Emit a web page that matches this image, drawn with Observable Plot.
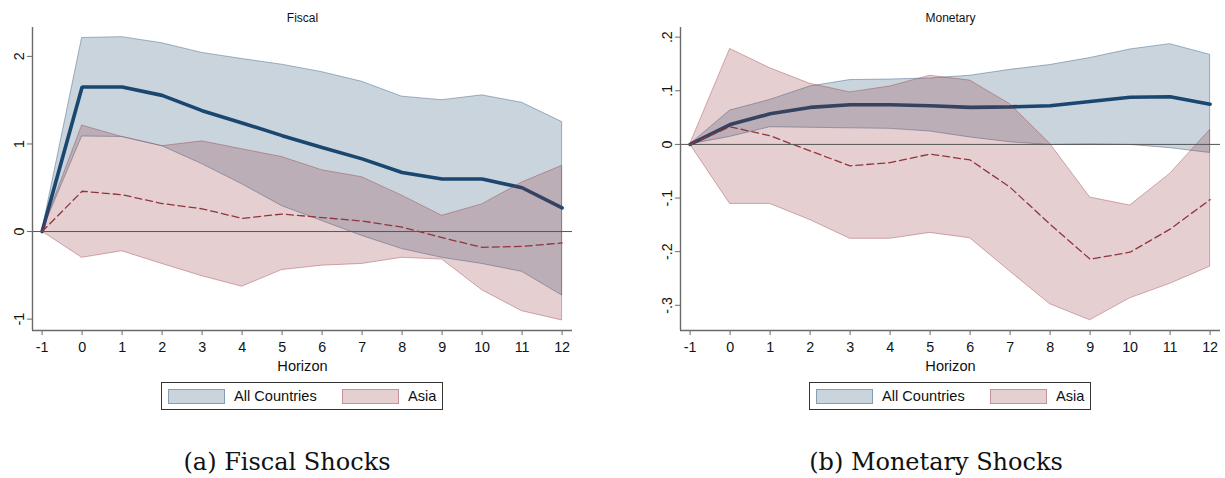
<!DOCTYPE html>
<html>
<head>
<meta charset="utf-8">
<script src="https://cdn.jsdelivr.net/npm/d3@7"></script>
<script src="https://cdn.jsdelivr.net/npm/@observablehq/plot@0.6"></script>
<style>
  html, body { margin: 0; padding: 0; background: #fff; }
  #root { position: relative; width: 1225px; height: 478px; font-family: "Liberation Sans", Arial, sans-serif; }
  .panel { position: absolute; top: 0; }
  .legend { position: absolute; top: 382px; width: 282px; height: 28px; box-sizing: border-box; border: 1px solid #333; background: #fff; }
  .sw { position: absolute; top: 6px; height: 15px; box-sizing: border-box; }
  .lt { position: absolute; top: 0; line-height: 26px; font-size: 14.6px; color: #111; white-space: nowrap; }
  .cap { position: absolute; top: 447px; width: 400px; text-align: center; font-family: "DejaVu Serif", serif; font-size: 24px; line-height: 30px; color: #111; white-space: nowrap; }
</style>
</head>
<body>
<div id="root"></div>
<script>
// ---------- data ----------
const horizon = [-1, 0, 1, 2, 3, 4, 5, 6, 7, 8, 9, 10, 11, 12];
const xTicks = [-1, 0, 1, 2, 3, 4, 5, 6, 7, 8, 9, 10, 11, 12];
const xTickLabels = ["-1", "0", "1", "2", "3", "4", "5", "6", "7", "8", "9", "10", "11", "12"];

// Fiscal shocks
const fiscalAllMean = [0, 1.65, 1.65, 1.555, 1.38, 1.24, 1.095, 0.96, 0.83, 0.675, 0.60, 0.60, 0.50, 0.27];
const fiscalAllHi   = [0, 2.21, 2.22, 2.15, 2.04, 1.97, 1.905, 1.82, 1.71, 1.54, 1.50, 1.555, 1.47, 1.25];
const fiscalAllLo   = [0, 1.085, 1.08, 0.975, 0.77, 0.54, 0.29, 0.12, -0.05, -0.20, -0.30, -0.37, -0.46, -0.73];
const fiscalAsiaMean = [0, 0.46, 0.42, 0.32, 0.26, 0.15, 0.20, 0.16, 0.12, 0.05, -0.07, -0.18, -0.17, -0.13];
const fiscalAsiaHi   = [0, 1.21, 1.08, 0.975, 1.03, 0.94, 0.85, 0.70, 0.62, 0.41, 0.18, 0.31, 0.56, 0.75];
const fiscalAsiaLo   = [0, -0.30, -0.225, -0.37, -0.51, -0.63, -0.44, -0.39, -0.37, -0.30, -0.32, -0.67, -0.91, -1.015];
const fiscalYTicks = [-1, 0, 1, 2];
const fiscalYTickLabels = ["-1", "0", "1", "2"];

// Monetary shocks
const monAllMean = [0, 0.037, 0.057, 0.069, 0.074, 0.074, 0.072, 0.069, 0.070, 0.072, 0.080, 0.088, 0.089, 0.075];
const monAllHi   = [0, 0.063, 0.083, 0.108, 0.120, 0.121, 0.123, 0.128, 0.139, 0.148, 0.161, 0.177, 0.187, 0.167];
const monAllLo   = [0, 0.014, 0.032, 0.031, 0.030, 0.029, 0.024, 0.013, 0.004, -0.001, 0.000, -0.001, -0.007, -0.016];
const monAsiaMean = [0, 0.033, 0.016, -0.012, -0.040, -0.034, -0.018, -0.029, -0.080, -0.149, -0.214, -0.201, -0.158, -0.103];
const monAsiaHi   = [0, 0.178, 0.142, 0.113, 0.097, 0.108, 0.128, 0.119, 0.075, 0.001, -0.099, -0.114, -0.055, 0.027];
const monAsiaLo   = [0, -0.111, -0.111, -0.141, -0.176, -0.176, -0.165, -0.175, -0.237, -0.298, -0.328, -0.287, -0.260, -0.228];
const monYTicks = [-0.3, -0.2, -0.1, 0, 0.1, 0.2];
const monYTickLabels = ["-.3", "-.2", "-.1", "0", ".1", ".2"];

const seriesNames = ["All Countries", "Asia"];
const panelTitles = ["Fiscal", "Monetary"];
const captions = ["(a) Fiscal Shocks", "(b) Monetary Shocks"];
const xLabel = "Horizon";

// ---------- style ----------
const navy = "#1a476f";
const maroon = "#90353b";
const bandOpacity = 0.235;
const bandStrokeOpacity = 0.38;
const axisGray = "#6a6a6a";

function rows(mean, lo, hi) {
  return horizon.map((h, i) => ({h, mean: mean[i], lo: lo[i], hi: hi[i]}));
}

function panel({all, asia, yTicks, yLabels, yDomain, title, width, marginRight}) {
  const xDomain = [-1.24, 12.26];
  const xFmt = new Map(xTicks.map((t, i) => [t, xTickLabels[i]]));
  const yFmt = new Map(yTicks.map((t, i) => [t, yLabels[i]]));
  return Plot.plot({
    width, height: 375,
    marginTop: 27, marginBottom: 45, marginLeft: 32, marginRight,
    style: {fontFamily: '"Liberation Sans", Arial, sans-serif', fontSize: "14px", background: "transparent", overflow: "visible", color: "#111"},
    x: {domain: xDomain},
    y: {domain: yDomain},
    marks: [
      Plot.areaY(all, {x: "h", y1: "lo", y2: "hi", fill: navy, fillOpacity: bandOpacity, stroke: navy, strokeOpacity: bandStrokeOpacity, strokeWidth: 1}),
      Plot.lineY(all, {x: "h", y: "mean", stroke: navy, strokeWidth: 3.6, strokeLinejoin: "miter"}),
      Plot.areaY(asia, {x: "h", y1: "lo", y2: "hi", fill: maroon, fillOpacity: bandOpacity, stroke: maroon, strokeOpacity: bandStrokeOpacity, strokeWidth: 1}),
      Plot.lineY(asia, {x: "h", y: "mean", stroke: maroon, strokeWidth: 1.3, strokeDasharray: "7,4"}),
      Plot.ruleY([0], {stroke: "#555", strokeWidth: 1}),
      Plot.ruleX([xDomain[0]], {stroke: axisGray, strokeWidth: 1.4}),
      Plot.ruleY([yDomain[0]], {stroke: axisGray, strokeWidth: 1.4}),
      Plot.axisX(xTicks, {tickSize: 5, tickPadding: 6, stroke: axisGray, fill: "#111", fontSize: 14.3, tickFormat: d => xFmt.get(d), label: null}),
      Plot.axisY(yTicks, {tickSize: 5, tickPadding: 4, tickRotate: -90, stroke: axisGray, fill: "#111", fontSize: 14.3, tickFormat: d => yFmt.get(d), label: null}),
      Plot.text([title], {frameAnchor: "top", lineAnchor: "middle", dy: -9, fontSize: 12, fill: "#111"}),
      Plot.text([xLabel], {frameAnchor: "bottom", lineAnchor: "middle", dy: 36, fontSize: 14.6, fill: "#111"})
    ]
  });
}

const root = document.getElementById("root");

const p1 = panel({
  all: rows(fiscalAllMean, fiscalAllLo, fiscalAllHi),
  asia: rows(fiscalAsiaMean, fiscalAsiaLo, fiscalAsiaHi),
  yTicks: fiscalYTicks, yLabels: fiscalYTickLabels, yDomain: [-1.13, 2.33],
  title: panelTitles[0], width: 612, marginRight: 40
});
p1.classList.add("panel"); p1.style.left = "0px";
root.appendChild(p1);

const p2 = panel({
  all: rows(monAllMean, monAllLo, monAllHi),
  asia: rows(monAsiaMean, monAsiaLo, monAsiaHi),
  yTicks: monYTicks, yLabels: monYTickLabels, yDomain: [-0.347, 0.218],
  title: panelTitles[1], width: 577, marginRight: 5
});
p2.classList.add("panel"); p2.style.left = "648px";
root.appendChild(p2);

function hexA(hex, a) {
  const c = d3.rgb(hex); return `rgba(${c.r},${c.g},${c.b},${a})`;
}
function legend(left) {
  const box = document.createElement("div");
  box.className = "legend"; box.style.left = left + "px";
  const items = [
    {name: seriesNames[0], color: navy, sx: 6, tx: 72},
    {name: seriesNames[1], color: maroon, sx: 180, tx: 246}
  ];
  for (const it of items) {
    const sw = document.createElement("div");
    sw.className = "sw";
    sw.style.left = it.sx + "px"; sw.style.width = "57px";
    sw.style.background = hexA(it.color, bandOpacity);
    sw.style.border = "1.5px solid " + hexA(it.color, bandStrokeOpacity);
    box.appendChild(sw);
    const t = document.createElement("div");
    t.className = "lt"; t.style.left = it.tx + "px"; t.textContent = it.name;
    box.appendChild(t);
  }
  root.appendChild(box);
}
legend(161);
legend(809);

function caption(text, center) {
  const c = document.createElement("div");
  c.className = "cap"; c.style.left = (center - 200) + "px"; c.textContent = text;
  root.appendChild(c);
}
caption(captions[0], 287);
caption(captions[1], 936);
</script>
</body>
</html>
